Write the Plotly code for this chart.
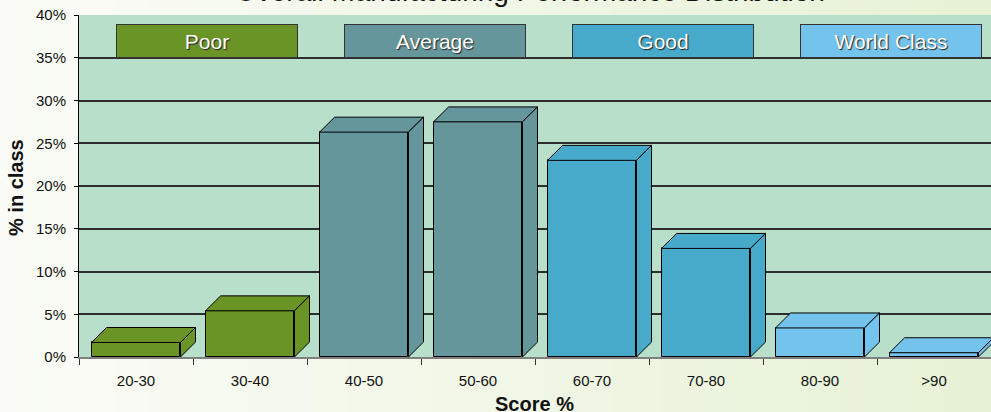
import plotly.graph_objects as go

# ---- data ----
categories = ["20-30", "30-40", "40-50", "50-60", "60-70", "70-80", "80-90", ">90"]
values = [1.7, 5.4, 26.3, 27.5, 23.0, 12.7, 3.4, 0.5]
bar_class = ["Poor", "Poor", "Average", "Average", "Good", "Good", "World Class", "World Class"]
class_names = ["Poor", "Average", "Good", "World Class"]
class_colors = ["#6B9427", "#65969C", "#47AACB", "#74C3EC"]
y_ticks = [0, 5, 10, 15, 20, 25, 30, 35, 40]
title_text = "Overall Manufacturing Performance Distribution"

# ---- style ----
FONT = "Liberation Sans, Arial, sans-serif"
W, H = 991, 412
ML, MR, MT, MB = 79, 0, 15, 55
BAR_W = 0.78          # front face width (category units)
DX = 0.132            # 3D depth offset, x (category units)
DY = 1.75             # 3D depth offset, y (percent units)
color_of = dict(zip(class_names, class_colors))

fig = go.Figure()

xs = list(range(len(categories)))
colors = [color_of[c] for c in bar_class]

# front faces
fig.add_trace(go.Bar(
    x=xs, y=values, width=BAR_W,
    marker=dict(color=colors, line=dict(color="#000000", width=1)),
    showlegend=False, hoverinfo="skip",
))

# top and side faces
for x, v, col in zip(xs, values, colors):
    x0, x1 = x - BAR_W / 2, x + BAR_W / 2
    fig.add_trace(go.Scatter(
        x=[x0, x0 + DX, x1 + DX, x1, x0],
        y=[v, v + DY, v + DY, v, v],
        mode="lines", fill="toself", fillcolor=col,
        line=dict(color="#000000", width=1),
        showlegend=False, hoverinfo="skip",
    ))
    fig.add_trace(go.Scatter(
        x=[x1, x1 + DX, x1 + DX, x1, x1],
        y=[0, DY, v + DY, v, 0],
        mode="lines", fill="toself", fillcolor=col,
        line=dict(color="#000000", width=1),
        showlegend=False, hoverinfo="skip",
    ))

# background gradient (paper) + plot area fill
pw = W - ML - MR
ph = H - MT - MB
px0, px1 = -ML / pw, 1 + MR / pw
py0, py1 = -MB / ph, 1 + MT / ph
left_rgb = (251, 252, 247)
right_rgb = (231, 242, 214)
n = 60
shapes = []
for k in range(n):
    t = k / (n - 1)
    c = tuple(round(a + (b - a) * t) for a, b in zip(left_rgb, right_rgb))
    xa = px0 + (px1 - px0) * k / n
    xb = px0 + (px1 - px0) * (k + 1) / n + 0.002
    shapes.append(dict(type="rect", xref="paper", yref="paper", x0=xa, x1=xb,
                       y0=py0, y1=py1, line=dict(width=0),
                       fillcolor="rgb(%d,%d,%d)" % c, layer="below"))
shapes.append(dict(type="rect", xref="paper", yref="paper", x0=0, x1=1, y0=0, y1=1,
                   line=dict(width=0), fillcolor="#B8DFC9", layer="below"))

# class legend boxes
annotations = []
for name, col in zip(class_names, class_colors):
    idx = [i for i, c in enumerate(bar_class) if c == name]
    cx = sum(idx) / len(idx) + DX * 0.9
    annotations.append(dict(
        x=cx, y=y_ticks[-2], xref="x", yref="y", yanchor="bottom", xanchor="center",
        text=name, showarrow=False, width=178, height=30,
        bgcolor=col, bordercolor="#333333", borderwidth=1, borderpad=1,
        font=dict(family=FONT, size=21, color="#FFFFFF", shadow="1px 1px 1px #222222"),
    ))

# chart title (cropped at the top edge, as in the reference)
annotations.append(dict(
    x=(530 - ML) / pw, y=py1, xref="paper", yref="paper", yanchor="middle", xanchor="center",
    yshift=9, text=title_text, showarrow=False,
    font=dict(family=FONT, size=28, color="#111111"),
))
# axis titles
annotations.append(dict(
    x=(534 - ML) / pw, y=(ph - (404 - MT)) / ph, xref="paper", yref="paper",
    xanchor="center", yanchor="middle", text="<b>Score %</b>", showarrow=False,
    font=dict(family=FONT, size=20, color="#111111"),
))
annotations.append(dict(
    x=(16 - ML) / pw, y=(ph - (187 - MT)) / ph, xref="paper", yref="paper",
    xanchor="center", yanchor="middle", text="<b>% in class</b>", showarrow=False,
    textangle=-90, font=dict(family=FONT, size=20, color="#111111"),
))

fig.update_layout(
    width=W, height=H,
    margin=dict(l=ML, r=MR, t=MT, b=MB, pad=0, autoexpand=False),
    paper_bgcolor="#F3F8EA",
    plot_bgcolor="rgba(0,0,0,0)",
    bargap=0,
    shapes=shapes,
    annotations=annotations,
    showlegend=False,
    font=dict(family=FONT, size=15, color="#111111"),
    xaxis=dict(
        range=[-0.5, len(categories) - 0.5], automargin=False,
        tickmode="array", tickvals=xs, ticktext=categories,
        ticks="", showgrid=False, zeroline=False, ticklabelstandoff=9,
        showline=True, linecolor="#808080", linewidth=2,
        tickfont=dict(family=FONT, size=15, color="#111111"),
        minor=dict(tickmode="array", tickvals=[i - 0.5 for i in range(len(categories) + 1)],
                   ticks="outside", ticklen=6, tickcolor="#333333", tickwidth=1, showgrid=False),
    ),
    yaxis=dict(
        range=[y_ticks[0], y_ticks[-1]], automargin=False,
        tickmode="array", tickvals=y_ticks, ticktext=["%d%%" % t for t in y_ticks],
        ticks="outside", ticklen=4, tickcolor="#000000", ticklabelstandoff=5,
        showgrid=True, gridcolor="#2E2E2E", gridwidth=1.5,
        zeroline=False, showline=True, linecolor="#000000", linewidth=1,
        tickfont=dict(family=FONT, size=15, color="#111111"),
    ),
)

fig.write_html("out.html", config={"displayModeBar": False},
               post_script="document.body.style.margin='0px';")
